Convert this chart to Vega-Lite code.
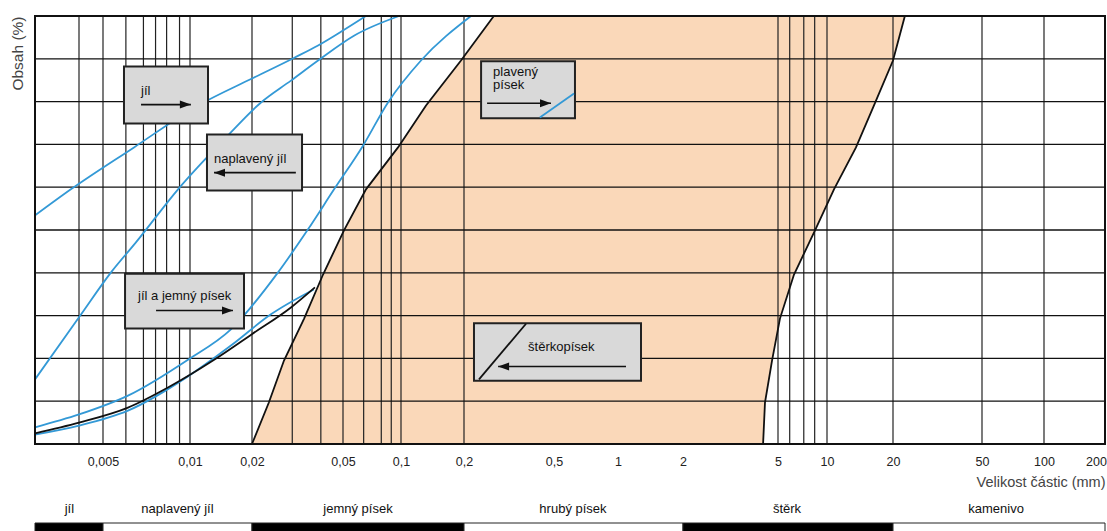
{
  "$schema": "https://vega.github.io/schema/vega-lite/v6.json",
  "padding": {"left": 9, "top": 12, "right": 0, "bottom": 0},
  "background": "white",
  "spacing": 6,
  "config": {"font": "Liberation Sans", "view": {"stroke": null}},
  "resolve": {"scale": {"x": "independent", "y": "independent", "color": "independent", "shape": "independent"}},
  "datasets": {
    "boundary": [
      {"pct": 0, "left": 0.02, "right": 4.33},
      {"pct": 9.7, "left": 0.0237, "right": 4.41},
      {"pct": 19.5, "left": 0.0276, "right": 4.72},
      {"pct": 29.3, "left": 0.0338, "right": 5.14},
      {"pct": 39.6, "left": 0.0409, "right": 6.27},
      {"pct": 49.9, "left": 0.0506, "right": 8.44},
      {"pct": 59.5, "left": 0.0658, "right": 10.76},
      {"pct": 69.3, "left": 0.0965, "right": 13.56},
      {"pct": 79.1, "left": 0.1317, "right": 16.38},
      {"pct": 89.6, "left": 0.1935, "right": 20},
      {"pct": 100, "left": 0.271, "right": 22.6}
    ],
    "vgrid": [
      {"size": 0.004}, {"size": 0.005}, {"size": 0.006}, {"size": 0.0069}, {"size": 0.0076},
      {"size": 0.0083}, {"size": 0.0092}, {"size": 0.01}, {"size": 0.02}, {"size": 0.03},
      {"size": 0.04}, {"size": 0.05}, {"size": 0.064}, {"size": 0.079}, {"size": 0.089},
      {"size": 0.1}, {"size": 0.2}, {"size": 5}, {"size": 5.9}, {"size": 7.2},
      {"size": 8.4}, {"size": 10}, {"size": 20}, {"size": 50}, {"size": 100}
    ],
    "hgrid": [
      {"pct": 10}, {"pct": 20}, {"pct": 30}, {"pct": 40}, {"pct": 50},
      {"pct": 60}, {"pct": 70}, {"pct": 80}, {"pct": 90}
    ],
    "curves": [
      {"curve": "c1", "size": 0.0027, "pct": 53.4},
      {"curve": "c1", "size": 0.00372, "pct": 59.5},
      {"curve": "c1", "size": 0.0064, "pct": 69.3},
      {"curve": "c1", "size": 0.01094, "pct": 79.1},
      {"curve": "c1", "size": 0.02, "pct": 85.4},
      {"curve": "c1", "size": 0.0305, "pct": 90.2},
      {"curve": "c1", "size": 0.0389, "pct": 93.1},
      {"curve": "c1", "size": 0.05, "pct": 96.6},
      {"curve": "c1", "size": 0.0658, "pct": 100},
      {"curve": "c2", "size": 0.0027, "pct": 15.1},
      {"curve": "c2", "size": 0.004, "pct": 29.6},
      {"curve": "c2", "size": 0.00533, "pct": 40.1},
      {"curve": "c2", "size": 0.0065, "pct": 47.1},
      {"curve": "c2", "size": 0.00909, "pct": 59.5},
      {"curve": "c2", "size": 0.01529, "pct": 72.1},
      {"curve": "c2", "size": 0.0219, "pct": 79.8},
      {"curve": "c2", "size": 0.0296, "pct": 84.9},
      {"curve": "c2", "size": 0.0389, "pct": 89.6},
      {"curve": "c2", "size": 0.057, "pct": 95.4},
      {"curve": "c2", "size": 0.0977, "pct": 100},
      {"curve": "c3", "size": 0.0027, "pct": 3.9},
      {"curve": "c3", "size": 0.004, "pct": 6.9},
      {"curve": "c3", "size": 0.0061, "pct": 11.3},
      {"curve": "c3", "size": 0.00984, "pct": 19.7},
      {"curve": "c3", "size": 0.0158, "pct": 26.8},
      {"curve": "c3", "size": 0.026, "pct": 40.1},
      {"curve": "c3", "size": 0.0351, "pct": 50.1},
      {"curve": "c3", "size": 0.0457, "pct": 59.5},
      {"curve": "c3", "size": 0.0635, "pct": 69.7},
      {"curve": "c3", "size": 0.0856, "pct": 79.8},
      {"curve": "c3", "size": 0.1246, "pct": 89.6},
      {"curve": "c3", "size": 0.2148, "pct": 100},
      {"curve": "c4", "size": 0.0027, "pct": 2.2},
      {"curve": "c4", "size": 0.004, "pct": 4.3},
      {"curve": "c4", "size": 0.0061, "pct": 7.8},
      {"curve": "c4", "size": 0.00984, "pct": 15.8},
      {"curve": "c4", "size": 0.0158, "pct": 23.0},
      {"curve": "c4", "size": 0.0242, "pct": 30.3},
      {"curve": "c4", "size": 0.0373, "pct": 36.1},
      {"curve": "black", "size": 0.0027, "pct": 2.5},
      {"curve": "black", "size": 0.004, "pct": 5.0},
      {"curve": "black", "size": 0.0061, "pct": 8.5},
      {"curve": "black", "size": 0.00839, "pct": 13.2},
      {"curve": "black", "size": 0.01293, "pct": 19.5},
      {"curve": "black", "size": 0.0199, "pct": 25.6},
      {"curve": "black", "size": 0.0296, "pct": 31.9},
      {"curve": "black", "size": 0.0377, "pct": 36.6}
    ],
    "boxes": [
      {"box": "jíl", "x1": 0.00591, "x2": 0.01223, "y1": 74.9, "y2": 88.2},
      {"box": "naplavený jíl", "x1": 0.01209, "x2": 0.0331, "y1": 59.2, "y2": 72.3},
      {"box": "jíl a jemný písek", "x1": 0.00596, "x2": 0.01829, "y1": 27.0, "y2": 39.8},
      {"box": "plavený písek", "x1": 0.238, "x2": 0.6275, "y1": 76.1, "y2": 89.4},
      {"box": "štěrkopísek", "x1": 0.2214, "x2": 1.278, "y1": 14.8, "y2": 28.2}
    ],
    "boxtext": [
      {"label": "jíl", "size": 0.00677, "pct": 82.4},
      {"label": "naplavený jíl", "size": 0.01308, "pct": 66.5},
      {"label": "jíl a jemný písek", "size": 0.00661, "pct": 34.5},
      {"label": "plavený", "size": 0.269, "pct": 86.9},
      {"label": "písek", "size": 0.269, "pct": 83.8},
      {"label": "štěrkopísek", "size": 0.384, "pct": 22.7}
    ],
    "symlines": [
      {"sym": "blue", "x1": 0.433, "x2": 0.621, "y1": 76.3, "y2": 81.9},
      {"sym": "black", "x1": 0.233, "x2": 0.376, "y1": 15.1, "y2": 28.1}
    ],
    "arrows": [
      {"box": "jíl", "from": 0.00677, "to": 0.0101, "pct": 79.3, "dir": "right"},
      {"box": "naplavený jíl", "from": 0.0311, "to": 0.01308, "pct": 63.4, "dir": "left"},
      {"box": "jíl a jemný písek", "from": 0.00763, "to": 0.01617, "pct": 31.2, "dir": "right"},
      {"box": "plavený písek", "from": 0.253, "to": 0.485, "pct": 79.6, "dir": "right"},
      {"box": "štěrkopísek", "from": 1.089, "to": 0.283, "pct": 18.1, "dir": "left"}
    ],
    "bands": [
      {"cls": "jíl", "from": 0.0027, "to": 0.005, "mid": 0.00367},
      {"cls": "naplavený jíl", "from": 0.005, "to": 0.02, "mid": 0.00905},
      {"cls": "jemný písek", "from": 0.02, "to": 0.2, "mid": 0.0598},
      {"cls": "hrubý písek", "from": 0.2, "to": 2, "mid": 0.614},
      {"cls": "štěrk", "from": 2, "to": 20, "mid": 5.68},
      {"cls": "kamenivo", "from": 20, "to": 240, "mid": 58.5}
    ]
  },
  "vconcat": [
    {
      "width": 1070,
      "height": 428,
      "layer": [
        {
          "data": {"name": "boundary"},
          "mark": {"type": "area", "orient": "horizontal", "color": "#fad8b9"},
          "encoding": {
            "y": {"field": "pct", "type": "quantitative",
              "scale": {"domain": [0, 100], "nice": false, "zero": false},
              "axis": {"title": "Obsah (%)", "labels": false, "ticks": false, "domain": false, "grid": false,
                "titleAnchor": "end", "titleFontSize": 15.5, "titleFontWeight": "normal", "titleColor": "#444",
                "titlePadding": 10, "minExtent": 0}},
            "x": {"field": "left", "type": "quantitative",
              "scale": {"type": "log", "nice": false,
                "domain": [0.0027, 0.004, 0.005, 0.01, 0.02, 0.05, 0.1, 0.2, 0.5, 1, 2, 5, 10, 20, 50, 100, 200, 240],
                "range": [0, 44, 68, 155, 217, 308, 366, 429, 519, 583, 648, 743, 792, 858, 947, 1009, 1061, 1070]},
              "axis": {"values": [0.005, 0.01, 0.02, 0.05, 0.1, 0.2, 0.5, 1, 2, 5, 10, 20, 50, 100, 200],
                "labelExpr": "replace(format(datum.value, '~g'), '.', ',')",
                "ticks": false, "domain": false, "grid": false, "labelPadding": 11, "labelFontSize": 12.5,
                "labelColor": "#222", "labelFlush": false, "labelOverlap": false,
                "title": "Velikost částic (mm)", "titleAnchor": "end", "titleFontSize": 14.5,
                "titleFontWeight": "normal", "titleColor": "#444", "titlePadding": 8, "minExtent": 0}},
            "x2": {"field": "right"}
          }
        },
        {
          "data": {"name": "vgrid"},
          "mark": {"type": "rule", "color": "#222", "strokeWidth": 1.2},
          "encoding": {"x": {"field": "size", "type": "quantitative"}}
        },
        {
          "data": {"name": "hgrid"},
          "mark": {"type": "rule", "color": "#111", "strokeWidth": 1.3},
          "encoding": {"y": {"field": "pct", "type": "quantitative"}}
        },
        {
          "data": {"name": "boundary"},
          "mark": {"type": "line", "color": "#111", "strokeWidth": 1.8},
          "encoding": {
            "x": {"field": "left", "type": "quantitative"},
            "y": {"field": "pct", "type": "quantitative"},
            "order": {"field": "pct"}
          }
        },
        {
          "data": {"name": "boundary"},
          "mark": {"type": "line", "color": "#111", "strokeWidth": 1.8},
          "encoding": {
            "x": {"field": "right", "type": "quantitative"},
            "y": {"field": "pct", "type": "quantitative"},
            "order": {"field": "pct"}
          }
        },
        {
          "data": {"name": "curves"},
          "mark": {"type": "line", "strokeWidth": 1.8, "interpolate": "monotone"},
          "encoding": {
            "x": {"field": "size", "type": "quantitative"},
            "y": {"field": "pct", "type": "quantitative"},
            "color": {"field": "curve", "type": "nominal", "legend": null,
              "scale": {"domain": ["black", "c1", "c2", "c3", "c4"], "range": ["#111111", "#3399d6", "#3399d6", "#3399d6", "#3399d6"]}}
          }
        },
        {
          "data": {"name": "boxes"},
          "mark": {"type": "rect", "fill": "#d9d9d9", "stroke": "#222", "strokeWidth": 2},
          "encoding": {
            "x": {"field": "x1", "type": "quantitative"},
            "x2": {"field": "x2"},
            "y": {"field": "y1", "type": "quantitative"},
            "y2": {"field": "y2"}
          }
        },
        {
          "data": {"name": "boxtext"},
          "mark": {"type": "text", "align": "left", "baseline": "middle", "fontSize": 13, "color": "#111"},
          "encoding": {
            "x": {"field": "size", "type": "quantitative"},
            "y": {"field": "pct", "type": "quantitative"},
            "text": {"field": "label"}
          }
        },
        {
          "data": {"name": "symlines"},
          "mark": {"type": "rule", "strokeWidth": 1.8},
          "encoding": {
            "x": {"field": "x1", "type": "quantitative"},
            "x2": {"field": "x2"},
            "y": {"field": "y1", "type": "quantitative"},
            "y2": {"field": "y2"},
            "stroke": {"field": "sym", "type": "nominal", "legend": null,
              "scale": {"domain": ["blue", "black"], "range": ["#3399d6", "#111111"]}}
          }
        },
        {
          "data": {"name": "arrows"},
          "mark": {"type": "rule", "color": "#111", "strokeWidth": 1.6},
          "encoding": {
            "x": {"field": "from", "type": "quantitative"},
            "x2": {"field": "to"},
            "y": {"field": "pct", "type": "quantitative"}
          }
        },
        {
          "data": {"name": "arrows"},
          "mark": {"type": "point", "filled": true, "color": "#111", "size": 100, "opacity": 1, "strokeWidth": 0},
          "encoding": {
            "x": {"field": "to", "type": "quantitative"},
            "y": {"field": "pct", "type": "quantitative"},
            "shape": {"field": "dir", "type": "nominal", "legend": null,
              "scale": {"domain": ["right", "left"], "range": ["M0,0L-2.2,-0.8L-2.2,0.8Z", "M0,0L2.2,-0.8L2.2,0.8Z"]}}
          }
        },
        {
          "data": {"values": [{"frame": "plot"}]},
          "mark": {"type": "rect", "fill": null, "stroke": "#111", "strokeWidth": 2},
          "encoding": {
            "x": {"datum": 0.0027, "type": "quantitative"},
            "x2": {"datum": 240},
            "y": {"datum": 0, "type": "quantitative"},
            "y2": {"datum": 100}
          }
        }
      ]
    },
    {
      "width": 1070,
      "height": 40,
      "data": {"name": "bands"},
      "layer": [
        {
          "mark": {"type": "rect", "stroke": "#222", "strokeWidth": 1},
          "encoding": {
            "x": {"field": "from", "type": "quantitative", "axis": null,
              "scale": {"type": "log", "nice": false,
                "domain": [0.0027, 0.004, 0.005, 0.01, 0.02, 0.05, 0.1, 0.2, 0.5, 1, 2, 5, 10, 20, 50, 100, 200, 240],
                "range": [0, 44, 68, 155, 217, 308, 366, 429, 519, 583, 648, 743, 792, 858, 947, 1009, 1061, 1070]}},
            "x2": {"field": "to"},
            "y": {"datum": 0, "type": "quantitative", "axis": null, "scale": {"domain": [0, 40], "nice": false, "zero": false}},
            "y2": {"datum": 12},
            "fill": {"field": "cls", "type": "nominal", "legend": null,
              "scale": {"domain": ["jíl", "naplavený jíl", "jemný písek", "hrubý písek", "štěrk", "kamenivo"],
                "range": ["#000000", "#ffffff", "#000000", "#ffffff", "#000000", "#ffffff"]}}
          }
        },
        {
          "mark": {"type": "text", "fontSize": 13, "color": "#111", "baseline": "middle"},
          "encoding": {
            "x": {"field": "mid", "type": "quantitative", "axis": null},
            "y": {"datum": 26, "type": "quantitative", "axis": null},
            "text": {"field": "cls"}
          }
        }
      ]
    }
  ]
}
